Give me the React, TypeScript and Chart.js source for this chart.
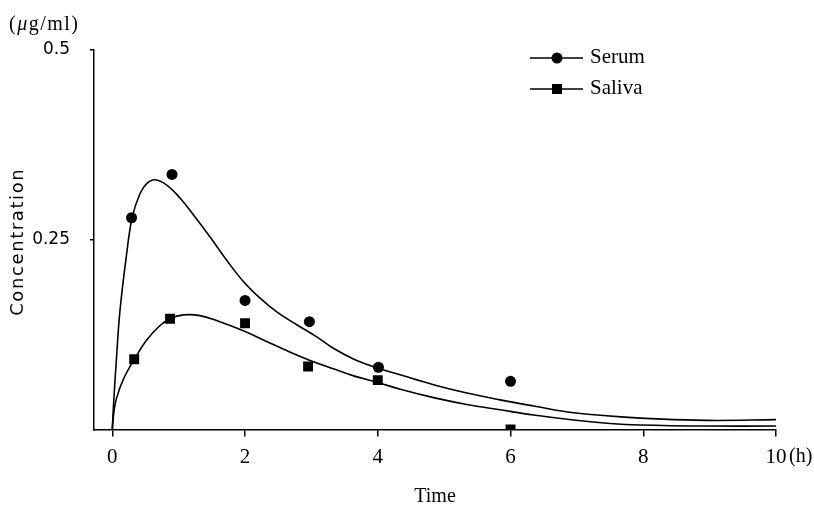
import React, { useEffect, useRef } from "react";
import { Chart, registerables } from "chart.js";

Chart.register(...registerables);

// Observed data
const serumTimes = [0.29, 0.9, 2.0, 2.97, 4.01, 6.0];
const serumValues = [0.279, 0.336, 0.17, 0.142, 0.082, 0.0635];
const salivaTimes = [0.33, 0.87, 2.0, 2.95, 4.0, 6.0];
const salivaValues = [0.0925, 0.146, 0.14, 0.083, 0.065, 0.0];

// Fitted curves
const serumCurveTimes = [0, 0.02, 0.06, 0.116, 0.217, 0.301, 0.418, 0.519, 0.644, 0.82, 1.02, 1.221, 1.471, 1.724, 1.975, 2.226, 2.478, 2.78, 3.081, 3.331, 3.633, 3.995, 4.337, 4.839, 5.342, 5.844, 6.346, 6.949, 7.954, 8.96, 10];
const serumCurveValues = [0, 0.035, 0.09, 0.157, 0.232, 0.28, 0.311, 0.324, 0.329, 0.322, 0.305, 0.283, 0.254, 0.223, 0.195, 0.173, 0.155, 0.138, 0.122, 0.107, 0.093, 0.081, 0.072, 0.059, 0.048, 0.039, 0.031, 0.022, 0.015, 0.012, 0.013];
const salivaCurveTimes = [0, 0.02, 0.06, 0.166, 0.342, 0.519, 0.719, 0.87, 1.07, 1.32, 1.62, 1.975, 2.3, 2.6, 2.98, 3.33, 3.66, 4.0, 4.34, 4.84, 5.34, 5.84, 6.35, 6.95, 7.5, 7.95, 8.96, 10];
const salivaCurveValues = [0, 0.02, 0.04, 0.066, 0.094, 0.118, 0.137, 0.146, 0.151, 0.15, 0.142, 0.13, 0.117, 0.105, 0.091, 0.08, 0.07, 0.062, 0.053, 0.042, 0.033, 0.026, 0.019, 0.0125, 0.008, 0.006, 0.0046, 0.0046];

// Axes
const xTickValues = [0, 2, 4, 6, 8, 10];
const xTickLabels = ["0", "2", "4", "6", "8", "10"];
const xUnitLabel = "(h)";
const yTickValues = [0.25, 0.5];
const yTickLabels = ["0.25", "0.5"];
const xTitle = "Time";
const yTitle = "Concentration";
const yUnitParts = ["(", "\u03bc", "g/ml)"];
const legendLabels = ["Serum", "Saliva"];

const toPoints = (xs: number[], ys: number[]) => xs.map((x, i) => ({ x, y: ys[i] }));

const extraPlugin = {
  id: "extras",
  afterDraw(chart: any) {
    const ctx = chart.ctx as CanvasRenderingContext2D;
    const xs = chart.scales.x;
    const ys = chart.scales.y;
    ctx.save();
    ctx.fillStyle = "#000";
    ctx.strokeStyle = "#000";
    // unit label (μg/ml)
    ctx.textAlign = "left";
    ctx.textBaseline = "middle";
    (ctx as any).letterSpacing = "1.5px";
    let ux = 9;
    yUnitParts.forEach((p, i) => {
      ctx.font = i === 1 ? 'italic 20px "Liberation Serif"' : '20px "Liberation Serif"';
      ctx.fillText(p, ux, 25);
      ux += ctx.measureText(p).width;
    });
    // y title
    ctx.save();
    (ctx as any).letterSpacing = "1.6px";
    ctx.font = '18px "DejaVu Sans"';
    ctx.translate(18, (ys.top + ys.bottom) / 2 + 2);
    ctx.rotate(-Math.PI / 2);
    ctx.textAlign = "center";
    ctx.textBaseline = "middle";
    ctx.fillText(yTitle, 0, 0);
    ctx.restore();
    (ctx as any).letterSpacing = "0px";
    // (h)
    ctx.font = '20px "Liberation Serif"';
    ctx.textAlign = "left";
    ctx.textBaseline = "middle";
    const x10 = xs.getPixelForValue(10);
    ctx.fillText(xUnitLabel, x10 + 13, 457);
    // legend
    const rows = [58, 89];
    rows.forEach((y, i) => {
      ctx.lineWidth = 1.5;
      ctx.beginPath();
      ctx.moveTo(530, y);
      ctx.lineTo(583, y);
      ctx.stroke();
      ctx.beginPath();
      if (i === 0) {
        ctx.arc(557, y, 5.5, 0, Math.PI * 2);
        ctx.fill();
      } else {
        ctx.fillRect(552, y - 5, 10, 10);
      }
      ctx.font = '21px "Liberation Serif"';
      ctx.textAlign = "left";
      ctx.textBaseline = "middle";
      ctx.fillText(legendLabels[i], 590, y - 1);
    });
    ctx.restore();
  },
};

export default function App() {
  const ref = useRef<HTMLCanvasElement>(null);
  useEffect(() => {
    if (!ref.current) return;
    const chart = new Chart(ref.current, {
      type: "line",
      data: {
        datasets: [
          {
            label: "Serum curve",
            data: toPoints(serumCurveTimes, serumCurveValues),
            borderColor: "#000",
            borderWidth: 1.6,
            pointRadius: 0,
            tension: 0.4,
            fill: false,
          },
          {
            label: "Saliva curve",
            data: toPoints(salivaCurveTimes, salivaCurveValues),
            borderColor: "#000",
            borderWidth: 1.6,
            pointRadius: 0,
            tension: 0.4,
            fill: false,
          },
          {
            label: legendLabels[0],
            data: toPoints(serumTimes, serumValues),
            showLine: false,
            pointStyle: "circle",
            pointRadius: 5.5,
            backgroundColor: "#000",
            borderColor: "#000",
            borderWidth: 0,
          },
          {
            label: legendLabels[1],
            data: toPoints(salivaTimes, salivaValues),
            showLine: false,
            pointStyle: "rect",
            pointRadius: 7,
            backgroundColor: "#000",
            borderColor: "#000",
            borderWidth: 0,
          },
        ],
      },
      options: {
        responsive: false,
        animation: false,
        layout: { padding: { top: 50, right: 38, left: 0, bottom: 0 } },
        plugins: { legend: { display: false }, tooltip: { enabled: false }, title: { display: false } },
        scales: {
          x: {
            type: "linear",
            min: -0.2757,
            max: 10,
            afterFit: (s: any) => {
              s.height = 80.5;
            },
            afterBuildTicks: (s: any) => {
              s.ticks = xTickValues.map((v) => ({ value: v }));
            },
            ticks: {
              color: "#000",
              font: { family: "Liberation Serif", size: 21 },
              padding: 8,
              maxRotation: 0,
              callback: (v: any) => {
                const i = xTickValues.indexOf(Number(v));
                return i >= 0 ? xTickLabels[i] : "";
              },
            },
            grid: { display: true, drawOnChartArea: false, drawTicks: true, tickLength: 7, color: "#000", lineWidth: 1.5 },
            border: { display: true, color: "#000", width: 1.5 },
            title: {
              display: true,
              text: xTitle,
              color: "#000",
              font: { family: "Liberation Serif", size: 20 },
              padding: { top: 0, bottom: 1 },
            },
          },
          y: {
            type: "linear",
            min: 0,
            max: 0.5,
            afterFit: (s: any) => {
              s.width = 94;
            },
            afterBuildTicks: (s: any) => {
              s.ticks = yTickValues.map((v) => ({ value: v }));
            },
            ticks: {
              color: "#000",
              font: { family: "DejaVu Sans", size: 17 },
              padding: 20,
              callback: (v: any) => {
                const i = yTickValues.indexOf(Number(v));
                return i >= 0 ? yTickLabels[i] : "";
              },
            },
            grid: { display: true, drawOnChartArea: false, drawTicks: true, tickLength: 4, color: "#000", lineWidth: 1.5 },
            border: { display: true, color: "#000", width: 1.5 },
            title: { display: false },
          },
        },
      },
      plugins: [extraPlugin],
    } as any);
    return () => chart.destroy();
  }, []);
  return (
    <div style={{ position: "absolute", left: 0, top: 0, width: 814, height: 510, background: "#fff" }}>
      <canvas ref={ref} width={814} height={510} style={{ width: 814, height: 510 }} />
    </div>
  );
}
